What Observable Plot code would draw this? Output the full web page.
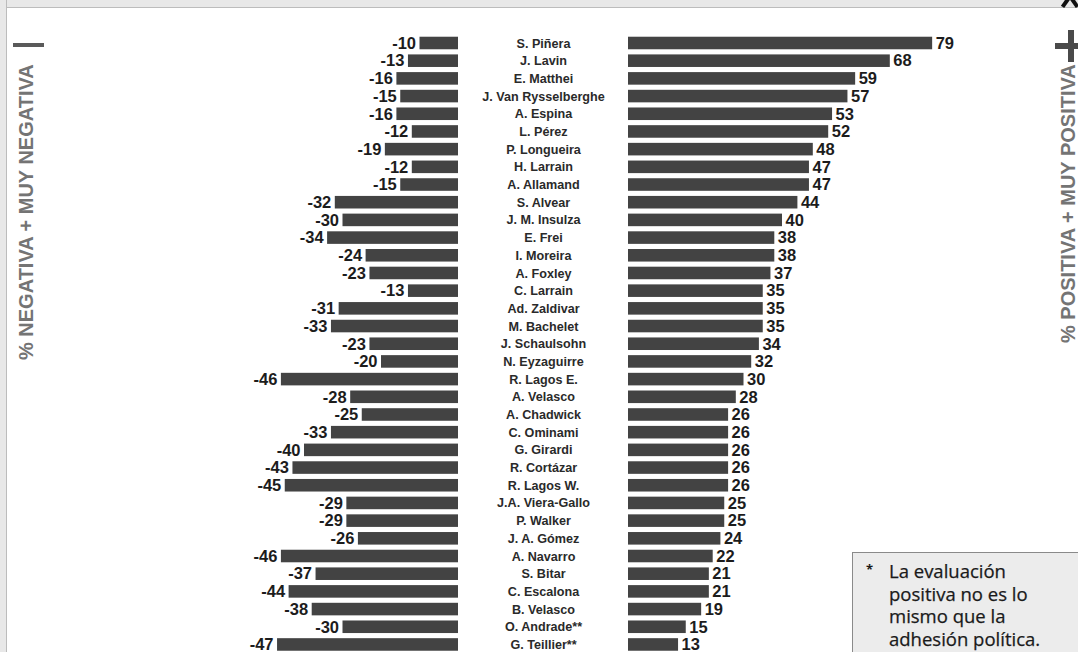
<!DOCTYPE html>
<html>
<head>
<meta charset="utf-8">
<script src="https://cdn.jsdelivr.net/npm/d3@7"></script>
<script src="https://cdn.jsdelivr.net/npm/@observablehq/plot@0.6"></script>
<style>
  html, body { margin: 0; padding: 0; background: #fff; }
  #wrap { position: relative; width: 1078px; height: 652px; overflow: hidden; background: #fff; font-family: "Liberation Sans", Arial, sans-serif; }
  #wrap svg { position: absolute; left: 0; top: 0; }
  .strip-top { position: absolute; left: 0; top: 0; width: 1078px; height: 7px; background: #e8e8e8; border-bottom: 1.5px solid #bcbcbc; }
  .strip-left { position: absolute; left: 0; top: 0; width: 6px; height: 652px; background: #e8e8e8; border-right: 1.5px solid #bcbcbc; }
  .frag { position: absolute; top: -4px; width: 4px; height: 12px; background: #111; }
  .vlabel { position: absolute; white-space: nowrap; font-weight: bold; font-size: 20px; line-height: 20px; color: #747474; transform-origin: 0 0; }
  .minus { position: absolute; left: 13px; top: 43px; width: 31px; height: 4px; background: #5a5a5a; }
  .plus-h { position: absolute; left: 1055px; top: 43px; width: 32px; height: 6px; background: #4a4a4a; }
  .plus-v { position: absolute; left: 1068px; top: 30px; width: 6px; height: 32px; background: #4a4a4a; }
  .note { position: absolute; left: 852px; top: 552px; width: 240px; height: 120px; background: #ececec; border: 1px solid #8a8a8a; box-sizing: border-box; font-family: "Open Sans", sans-serif; font-size: 18.5px; line-height: 22.7px; color: #1a1a1a; padding: 7px 0 0 36px; }
  .note .ast { position: absolute; left: 13px; top: 5px; font-size: 13px; font-weight: bold; }
  .note .txt { display: block; width: 168px; -webkit-text-stroke: 0.25px #1a1a1a; }
</style>
</head>
<body>
<div id="wrap"></div>
<script>
const names = ["S. Piñera","J. Lavin","E. Matthei","J. Van Rysselberghe","A. Espina","L. Pérez","P. Longueira","H. Larrain","A. Allamand","S. Alvear","J. M. Insulza","E. Frei","I. Moreira","A. Foxley","C. Larrain","Ad. Zaldivar","M. Bachelet","J. Schaulsohn","N. Eyzaguirre","R. Lagos E.","A. Velasco","A. Chadwick","C. Ominami","G. Girardi","R. Cortázar","R. Lagos W.","J.A. Viera-Gallo","P. Walker","J. A. Gómez","A. Navarro","S. Bitar","C. Escalona","B. Velasco","O. Andrade**","G. Teillier**"];
const negative = [-10,-13,-16,-15,-16,-12,-19,-12,-15,-32,-30,-34,-24,-23,-13,-31,-33,-23,-20,-46,-28,-25,-33,-40,-43,-45,-29,-29,-26,-46,-37,-44,-38,-30,-47];
const positive = [79,68,59,57,53,52,48,47,47,44,40,38,38,37,35,35,35,34,32,30,28,26,26,26,26,26,25,25,24,22,21,21,19,15,13];
const leftLabel = "% NEGATIVA + MUY NEGATIVA";
const rightLabel = "% POSITIVA + MUY POSITIVA";
const noteText = "La evaluación positiva no es lo mismo que la adhesión política.";

const rows = names.map((name, i) => ({name, neg: negative[i], pos: positive[i]}));

const W = 1078, H = 652;
const K = 3.85;            // px per percentage point
const ZERO = 628;          // pixel position of zero for positive bars
const GAP = 170 / K;       // centre gap (in units) reserved for the names

const barFill = "#434343";
const chart = Plot.plot({
  width: W, height: H,
  marginTop: 0, marginBottom: 0, marginLeft: 0, marginRight: 0,
  style: {background: "transparent", fontFamily: "'Liberation Sans', Arial, sans-serif"},
  x: {domain: [-ZERO / K, (W - ZERO) / K], range: [0, W], axis: null},
  y: {domain: names, range: [34.155, 653.3], paddingInner: 0.29, paddingOuter: 0.145, round: false, axis: null},
  marks: [
    Plot.barX(rows, {y: "name", x1: () => -GAP, x2: d => d.neg - GAP, fill: barFill}),
    Plot.barX(rows, {y: "name", x1: 0, x2: "pos", fill: barFill}),
    Plot.text(rows, {y: "name", x: d => d.neg - GAP, text: d => String(d.neg), textAnchor: "end", dx: -4, fontSize: 16.5, fontWeight: "bold", fill: "#1c1c1c", letterSpacing: -0.6}),
    Plot.text(rows, {y: "name", x: "pos", text: d => String(d.pos), textAnchor: "start", dx: 3, fontSize: 16.5, fontWeight: "bold", fill: "#1c1c1c", letterSpacing: -0.6}),
    Plot.text(rows, {y: "name", x: () => -GAP / 2, text: "name", textAnchor: "middle", fontSize: 12.6, fontWeight: "bold", fill: "#2a2a2a"})
  ]
});

const wrap = document.getElementById("wrap");
wrap.appendChild(chart);

function add(html) { wrap.insertAdjacentHTML("beforeend", html); }
add('<div class="strip-top"></div>');
add('<div class="strip-left"></div>');
add('<div class="frag" style="left:1064px;transform:rotate(35deg)"></div><div class="frag" style="left:1072px;transform:rotate(-35deg)"></div>');
add('<div class="minus"></div>');
add('<div class="plus-h"></div><div class="plus-v"></div>');

// rotated axis labels
const l = document.createElement("div");
l.className = "vlabel"; l.textContent = leftLabel;
wrap.appendChild(l);
const lw = l.getBoundingClientRect().width;
l.style.left = "16px"; l.style.top = (212 + lw / 2) + "px"; l.style.transform = "rotate(-90deg)";

const r = document.createElement("div");
r.className = "vlabel"; r.textContent = rightLabel;
wrap.appendChild(r);
const rw = r.getBoundingClientRect().width;
r.style.left = "1058px"; r.style.top = (204 + rw / 2) + "px"; r.style.transform = "rotate(-90deg)";

const note = document.createElement("div");
note.className = "note";
note.innerHTML = '<span class="ast">*</span>';
const span = document.createElement("span");
span.className = "txt";
span.textContent = noteText;
note.appendChild(span);
wrap.appendChild(note);
</script>
</body>
</html>
